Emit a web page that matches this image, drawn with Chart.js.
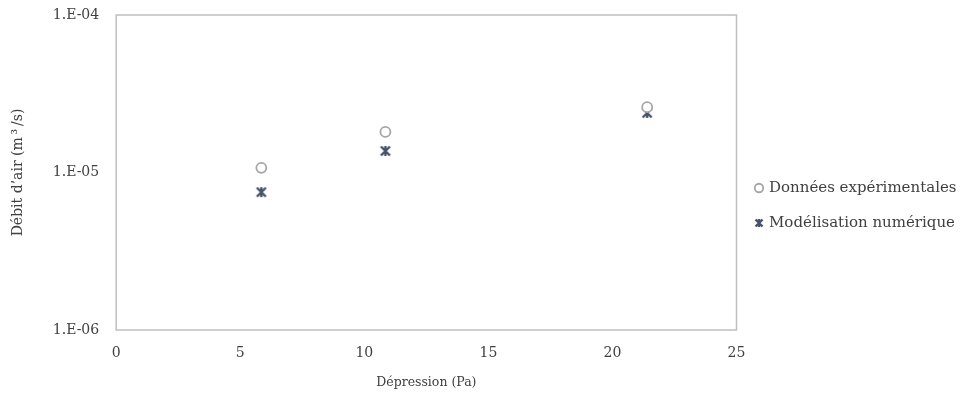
<!DOCTYPE html>
<html><head><meta charset="utf-8">
<script src="https://cdn.jsdelivr.net/npm/chart.js@4"></script>
<style>html,body{margin:0;padding:0;background:#fff}#wrap{width:963px;height:394px}</style>
</head><body><div id="wrap"><canvas id="c" width="963" height="394"></canvas></div>
<script>
const xExp = [5.85, 10.85, 21.4];
const yExp = [1.07e-5, 1.81e-5, 2.6e-5];
const xMod = [5.85, 10.85, 21.4];
const yMod = [7.5e-6, 1.37e-5, 2.39e-5];
const yTickValues = [1e-6, 1e-5, 1e-4];
const yTickLabels = ['1.E-06', '1.E-05', '1.E-04'];
const seriesNames = ['Données expérimentales', 'Modélisation numérique'];

const FONT = 'DejaVu Serif';
const TXT = '#404040';

function starMarker(size, color) {
  const c = document.createElement('canvas');
  c.width = size; c.height = size;
  const g = c.getContext('2d');
  g.strokeStyle = color; g.lineWidth = 2.4; g.lineCap = 'butt';
  const m = 1.5, s = size - 1.5;
  g.beginPath();
  g.moveTo(m, m); g.lineTo(s, s);
  g.moveTo(s, m); g.lineTo(m, s);
  g.moveTo(size / 2, 1); g.lineTo(size / 2, size - 1);
  g.stroke();
  return c;
}
const star = starMarker(12, '#44546a');
const starSmall = starMarker(10, '#44546a');

const frame = {
  id: 'frame',
  afterDraw(chart) {
    const a = chart.chartArea, ctx = chart.ctx;
    ctx.save();
    ctx.strokeStyle = '#bfbfbf'; ctx.lineWidth = 1.5;
    ctx.strokeRect(a.left, a.top, a.right - a.left, a.bottom - a.top);
    ctx.restore();
  }
};

new Chart(document.getElementById('c'), {
  type: 'scatter',
  data: {
    datasets: [
      {
        label: seriesNames[0],
        data: xExp.map((x, i) => ({x, y: yExp[i]})),
        pointStyle: 'circle', pointRadius: 5, pointBorderWidth: 1.8,
        borderColor: '#a6a6a6', backgroundColor: '#ffffff'
      },
      {
        label: seriesNames[1],
        data: xMod.map((x, i) => ({x, y: yMod[i]})),
        pointStyle: star, pointRadius: 6,
        borderColor: '#44546a', backgroundColor: '#44546a'
      }
    ]
  },
  options: {
    responsive: false, animation: false,
    layout: {padding: {left: 6, right: -3.5, top: 0, bottom: 0}},
    plugins: {
      tooltip: {enabled: false},
      legend: {
        position: 'right',
        title: {display: true, text: ' ', font: {size: 1, lineHeight: 1}, padding: 8},
        labels: {
          usePointStyle: true, boxWidth: 5, boxHeight: 6, padding: 20,
          color: TXT, font: {family: FONT, size: 15, lineHeight: 1.2},
          generateLabels(chart) {
            const items = Chart.defaults.plugins.legend.labels.generateLabels(chart);
            items[1].pointStyle = starSmall;
            return items;
          }
        }
      }
    },
    scales: {
      x: {
        type: 'linear', min: 0, max: 25,
        ticks: {stepSize: 5, color: TXT, font: {family: FONT, size: 14}, padding: 14.6},
        grid: {display: false, drawTicks: false},
        border: {display: false},
        title: {display: true, text: 'Dépression (Pa)', color: TXT, font: {family: FONT, size: 12.5}},
        afterFit(axis) { axis.height = 64; }
      },
      y: {
        type: 'logarithmic', min: 1e-6, max: 1e-4,
        afterBuildTicks(axis) { axis.ticks = yTickValues.map(v => ({value: v})); },
        ticks: {
          color: TXT, font: {family: FONT, size: 14}, padding: 17,
          callback(v) { const i = yTickValues.findIndex(t => Math.abs(t - v) / t < 1e-6); return i >= 0 ? yTickLabels[i] : ''; }
        },
        grid: {display: false, drawTicks: false},
        border: {display: false},
        title: {display: true, text: 'Débit d\u2019air (m\u2009³\u2009/s)', color: TXT, font: {family: FONT, size: 14}, padding: {top: 4, bottom: 9}},
        afterFit(axis) { axis.paddingTop = 15; axis.paddingBottom = 0; }
      }
    }
  },
  plugins: [frame]
});
</script></body></html>
